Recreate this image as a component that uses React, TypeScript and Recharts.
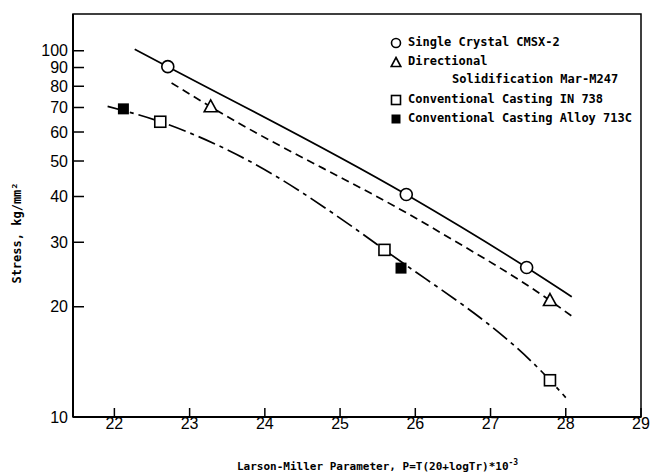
import React from "react";
import {
  ComposedChart,
  Line,
  Scatter,
  XAxis,
  YAxis,
  Label,
  Legend,
  ReferenceArea,
} from "recharts";

// tick labels
const xTicks = [22, 23, 24, 25, 26, 27, 28, 29];
const yTicks = [10, 20, 30, 40, 50, 60, 70, 80, 90, 100];

// measured points
const cmsxP = [22.71, 25.88, 27.48];
const cmsxS = [90.5, 40.5, 25.6];
const marP = [23.28, 27.79];
const marS = [70.3, 20.8];
const in738P = [22.61, 25.59, 27.79];
const in738S = [64, 28.6, 12.6];
const a713P = [22.12, 25.81];
const a713S = [69.4, 25.5];

// fitted curves
const cmsxFitP = [22.27, 22.71, 25.88, 27.48, 28.08];
const cmsxFitS = [101, 90.5, 40.5, 25.6, 21.3];
const marFitP = [22.76, 23.28, 26.2, 27.79, 28.12];
const marFitS = [81.7, 70.3, 33.1, 20.8, 18.6];
const in738FitP = [21.91, 22.61, 23.76, 25.17, 25.59, 27.79, 28.0];
const in738FitS = [70.5, 64, 50.4, 33, 28.6, 12.6, 11.3];

const legendItems = [
  { key: "circle", text: "Single Crystal CMSX-2" },
  { key: "triangle", text: "Directional" },
  { key: "none", text: "Solidification Mar-M247" },
  { key: "square", text: "Conventional Casting IN 738" },
  { key: "filled", text: "Conventional Casting Alloy 713C" },
];

const toPts = (p: number[], s: number[]) => p.map((x, i) => ({ x, y: s[i] }));

const monoFont = "'DejaVu Sans Mono', 'Liberation Mono', monospace";

const Marker = ({ kind }: { kind: string }) => {
  if (kind === "none") return null;
  return (
    <svg width={12} height={12} style={{ position: "absolute", left: -6, top: -6 }}>
      {kind === "circle" && <circle cx={6} cy={6} r={4.5} fill="#fff" stroke="#000" strokeWidth={1.6} />}
      {kind === "triangle" && <path d="M6,1.5 L10.8,10.5 L1.2,10.5 Z" fill="#fff" stroke="#000" strokeWidth={1.6} />}
      {kind === "square" && <rect x={1.5} y={1.5} width={9} height={9} fill="#fff" stroke="#000" strokeWidth={1.6} />}
      {kind === "filled" && <rect x={1.5} y={1.5} width={9} height={9} fill="#000" />}
    </svg>
  );
};

const renderLegend = () => (
  <div style={{ position: "relative", width: 260, height: 100 }}>
    {legendItems.map((it, i) => {
      const top = [10, 29, 47, 67, 86][i];
      return (
        <div key={i} style={{ position: "absolute", top, left: 0 }}>
          <div style={{ position: "absolute", left: 8, top: 0 }}>
            <Marker kind={it.key} />
          </div>
          <span
            style={{
              position: "absolute",
              left: it.key === "none" ? 64 : 20,
              top: -8,
              whiteSpace: "nowrap",
              fontFamily: monoFont,
              fontWeight: "bold",
              fontSize: 12,
              color: "#000",
            }}
          >
            {it.text}
          </span>
        </div>
      );
    })}
  </div>
);

const circleShape = (props: any) => (
  <circle cx={props.cx} cy={props.cy} r={6} fill="#fff" stroke="#000" strokeWidth={1.6} />
);
const triangleShape = (props: any) => (
  <path
    d={`M${props.cx},${props.cy - 7} L${props.cx + 6.5},${props.cy + 5} L${props.cx - 6.5},${props.cy + 5} Z`}
    fill="#fff"
    stroke="#000"
    strokeWidth={1.6}
  />
);
const squareShape = (props: any) => (
  <rect x={props.cx - 5.5} y={props.cy - 5.5} width={11} height={11} fill="#fff" stroke="#000" strokeWidth={1.6} />
);
const filledShape = (props: any) => (
  <rect x={props.cx - 5.5} y={props.cy - 5.5} width={11} height={11} fill="#000" />
);

const XTitle = () => (
  <text x={237} y={470} fontFamily={monoFont} fontWeight="bold" fontSize={11} fill="#000">
    Larson-Miller Parameter, P=T(20+logTr)*10
    <tspan dy={-5} fontSize={8}>-3</tspan>
  </text>
);

const YTitle = () => (
  <text
    x={17}
    y={233}
    transform="rotate(-90 17 233)"
    textAnchor="middle"
    dominantBaseline="central"
    fontFamily={monoFont}
    fontWeight="bold"
    fontSize={12}
    fill="#000"
  >
    Stress, kg/mm²
  </text>
);

export default function App() {
  return (
    <div style={{ position: "absolute", left: 0, top: 0, background: "#fff" }}>
      <ComposedChart
        width={652}
        height={474}
        margin={{ top: 14, right: 11, bottom: 0, left: 0 }}
      >
        <XAxis
          dataKey="x"
          type="number"
          domain={[21.45, 29]}
          ticks={xTicks}
          interval={0}
          allowDataOverflow
          height={57}
          axisLine={{ stroke: "#000", strokeWidth: 2 }}
          tickLine={{ stroke: "#000", strokeWidth: 1.5 }}
          tickSize={-9}
          tickMargin={10}
          tick={{ fill: "#000", fontSize: 16, fontFamily: "'Liberation Sans', Arial, sans-serif" }}
        >
          <Label content={<XTitle />} />
        </XAxis>
        <YAxis
          dataKey="y"
          type="number"
          scale="log"
          domain={[10, 126]}
          ticks={yTicks}
          interval={0}
          allowDataOverflow
          width={73}
          axisLine={{ stroke: "#000", strokeWidth: 2 }}
          tickLine={{ stroke: "#000", strokeWidth: 1.5 }}
          tickSize={-11}
          tickMargin={16}
          tick={{ fill: "#000", fontSize: 16, fontFamily: "'Liberation Sans', Arial, sans-serif" }}
        >
          <Label content={<YTitle />} />
        </YAxis>
        <ReferenceArea
          x1={21.45}
          x2={29}
          y1={10}
          y2={126}
          fill="none"
          stroke="#000"
          strokeWidth={1.5}
          ifOverflow="visible"
        />
        <Legend
          layout="vertical"
          align="center"
          verticalAlign="middle"
          content={renderLegend}
          wrapperStyle={{ left: 388, top: 33, width: 260, height: 100 }}
        />
        <Line
          data={toPts(cmsxFitP, cmsxFitS)}
          dataKey="y"
          type="monotone"
          stroke="#000"
          strokeWidth={1.7}
          dot={false}
          activeDot={false}
          legendType="none"
          isAnimationActive={false}
        />
        <Line
          data={toPts(marFitP, marFitS)}
          dataKey="y"
          type="monotone"
          stroke="#000"
          strokeWidth={1.7}
          strokeDasharray="8 5"
          dot={false}
          activeDot={false}
          legendType="none"
          isAnimationActive={false}
        />
        <Line
          data={toPts(in738FitP, in738FitS)}
          dataKey="y"
          type="monotone"
          stroke="#000"
          strokeWidth={1.7}
          strokeDasharray="18 5 4 5"
          dot={false}
          activeDot={false}
          legendType="none"
          isAnimationActive={false}
        />
        <Scatter data={toPts(cmsxP, cmsxS)} shape={circleShape} isAnimationActive={false} />
        <Scatter data={toPts(marP, marS)} shape={triangleShape} isAnimationActive={false} />
        <Scatter data={toPts(in738P, in738S)} shape={squareShape} isAnimationActive={false} />
        <Scatter data={toPts(a713P, a713S)} shape={filledShape} isAnimationActive={false} />
      </ComposedChart>
    </div>
  );
}
